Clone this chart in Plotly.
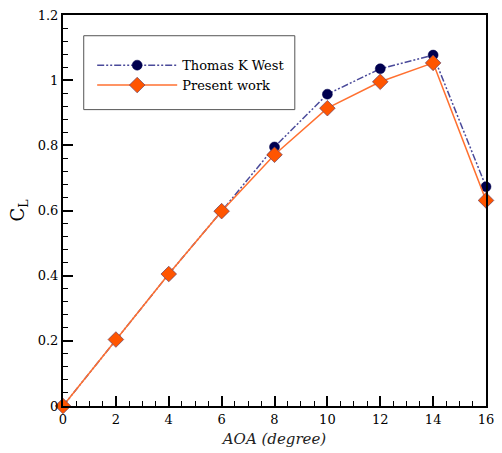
import plotly.graph_objects as go

# Lift coefficient vs angle of attack
aoa = [0, 2, 4, 6, 8, 10, 12, 14, 16]
cl_west = [0.0, 0.204, 0.405, 0.598, 0.795, 0.957, 1.035, 1.077, 0.673]
cl_present = [0.0, 0.204, 0.405, 0.598, 0.771, 0.914, 0.995, 1.053, 0.631]

x_ticks = [0, 2, 4, 6, 8, 10, 12, 14, 16]
y_ticks = [0, 0.2, 0.4, 0.6, 0.8, 1.0, 1.2]
y_tick_text = ["0", "0.2", "0.4", "0.6", "0.8", "1", "1.2"]

SERIF = "DejaVu Serif"

fig = go.Figure()
fig.add_trace(go.Scatter(
    x=aoa, y=cl_west, name="Thomas K West", mode="lines+markers",
    cliponaxis=False,
    line=dict(color="#4a4a9a", width=1.5, dash="7px,2px,2px,2px,2px,2px"),
    marker=dict(symbol="circle", size=10, color="#00004f",
                line=dict(color="#00004f", width=0.5)),
))
fig.add_trace(go.Scatter(
    x=aoa, y=cl_present, name="Present work", mode="lines+markers",
    cliponaxis=False,
    line=dict(color="#ff7030", width=1.5),
    marker=dict(symbol="diamond", size=12, color="#ff5500",
                line=dict(color="#6a4060", width=0.7)),
))

axis_common = dict(
    showline=True, linecolor="black", linewidth=2, mirror=True,
    ticks="inside", ticklen=10, tickwidth=2, tickcolor="black",
    showgrid=False, zeroline=False,
    tickfont=dict(family=SERIF, size=13, color="black"),
)

fig.update_xaxes(
    range=[0, 16], tickvals=x_ticks,
    minor=dict(dtick=0.5, ticks="inside", ticklen=5, tickwidth=1, tickcolor="black"),
    title=dict(text="<i>AOA (degree)</i>", font=dict(family=SERIF, size=15, color="#222"),
               standoff=8),
    **axis_common,
)
fig.update_yaxes(
    range=[0, 1.2], tickvals=y_ticks, ticktext=y_tick_text,
    minor=dict(dtick=0.04, ticks="inside", ticklen=5, tickwidth=1, tickcolor="black"),
    title=dict(text="C<sub>L</sub>", font=dict(family=SERIF, size=18, color="black"),
               standoff=8),
    **axis_common,
)

# Legend frame
fig.add_shape(type="rect", xref="paper", yref="paper",
              x0=0.049, x1=0.548, y0=0.758, y1=0.947,
              line=dict(color="#555", width=1), fillcolor="rgba(0,0,0,0)")

fig.update_layout(
    width=502, height=453,
    margin=dict(l=63, r=8, t=13, b=46),
    plot_bgcolor="white", paper_bgcolor="white",
    font=dict(family=SERIF),
    legend=dict(x=0.069, y=0.846, xanchor="left", yanchor="middle",
                bgcolor="rgba(0,0,0,0)", borderwidth=0,
                font=dict(family=SERIF, size=13, color="black"),
                itemwidth=80, tracegroupgap=0),
)

fig.write_html("out.html")
